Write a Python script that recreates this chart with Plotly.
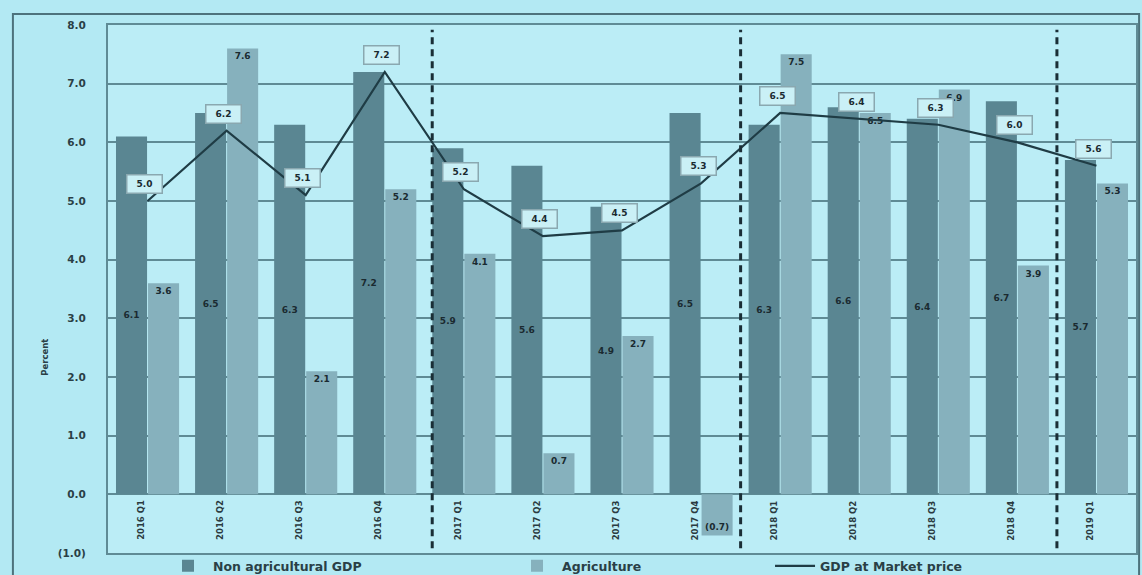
import plotly.graph_objects as go

categories = ["2016 Q1", "2016 Q2", "2016 Q3", "2016 Q4",
              "2017 Q1", "2017 Q2", "2017 Q3", "2017 Q4",
              "2018 Q1", "2018 Q2", "2018 Q3", "2018 Q4",
              "2019 Q1"]
non_agri = [6.1, 6.5, 6.3, 7.2, 5.9, 5.6, 4.9, 6.5, 6.3, 6.6, 6.4, 6.7, 5.7]
agriculture = [3.6, 7.6, 2.1, 5.2, 4.1, 0.7, 2.7, -0.7, 7.5, 6.5, 6.9, 3.9, 5.3]
gdp_market = [5.0, 6.2, 5.1, 7.2, 5.2, 4.4, 4.5, 5.3, 6.5, 6.4, 6.3, 6.0, 5.6]
y_ticks = [-1, 0, 1, 2, 3, 4, 5, 6, 7, 8]
year_breaks = [3.6, 7.5, 11.5]


def fmt(v):
    return f"({abs(v):.1f})" if v < 0 else f"{v:.1f}"


BG = "#b3e9f3"
PLOT_BG = "#bbedf6"
DARK = "#5a8692"
LIGHT = "#86b1bd"
LINE = "#1f3c45"
GRID = "#5f8b95"
TXT = "#2a3f46"
FONT = "DejaVu Sans"

fig = go.Figure()
fig.add_trace(go.Bar(
    x=categories, y=non_agri, name="Non agricultural GDP",
    marker=dict(color=DARK, line=dict(width=0)),
    text=[fmt(v) for v in non_agri], textposition="inside",
    insidetextanchor="middle", textangle=0,
    textfont=dict(family=FONT, size=9, color="#1a2a30", weight="bold"),
    legend="legend",
))
fig.add_trace(go.Bar(
    x=categories, y=agriculture, name="Agriculture",
    marker=dict(color=LIGHT, line=dict(width=0)),
    text=[fmt(v) for v in agriculture], textposition="inside",
    insidetextanchor="end", textangle=0,
    textfont=dict(family=FONT, size=9, color="#1a2a30", weight="bold"),
    legend="legend2",
))
fig.add_trace(go.Scatter(
    x=categories, y=gdp_market, name="GDP at Market price",
    mode="lines", line=dict(color=LINE, width=2.2),
    legend="legend3",
))

# GDP label boxes
for c, v in zip(categories, gdp_market):
    fig.add_annotation(
        x=c, y=v, text=f"<b>{fmt(v)}</b>", showarrow=False,
        yshift=17, xshift=-3, width=30, height=13,
        font=dict(family=FONT, size=9, color="#1a2a30"),
        bgcolor="#caf0f6", bordercolor="#8aa8b0", borderwidth=1.5,
        borderpad=2,
    )

# Category labels, rotated, inside the plot below zero
for c in categories:
    fig.add_annotation(
        x=c, y=0, text=f"<b>{c}</b>", showarrow=False,
        textangle=-90, yanchor="top", yshift=-4, xshift=-6,
        font=dict(family=FONT, size=8.5, color="#2a3a40"),
    )

# year separators
for xb in year_breaks:
    fig.add_shape(type="line", xref="x", yref="y", x0=xb, x1=xb,
                  y0=-0.92, y1=7.92,
                  line=dict(color="#1a2e36", width=3, dash="7px,5px"))

# outer frame
fig.add_shape(type="rect", xref="paper", yref="paper",
              x0=-0.0925, x1=1.003, y0=-0.06, y1=1.021,
              line=dict(color="#4d727c", width=2), layer="below")

# y title
fig.add_annotation(xref="paper", yref="paper", x=-0.068, y=0.37,
                   text="<b>Percent</b>", textangle=-90, showarrow=False,
                   font=dict(family=FONT, size=8.5, color=TXT))

leg_common = dict(orientation="h", y=-0.025, xanchor="left", yanchor="middle",
                  bgcolor="rgba(0,0,0,0)",
                  font=dict(size=12.5, weight="bold", color=TXT), itemwidth=40)

fig.update_layout(
    width=1142, height=575,
    paper_bgcolor=BG, plot_bgcolor=PLOT_BG,
    margin=dict(l=108, r=6, t=25, b=22, autoexpand=False),
    barmode="group", bargap=0.19, bargroupgap=0.03,
    font=dict(family=FONT, size=9, color=TXT),
    showlegend=True,
    legend=dict(x=0.0535, **leg_common),
    legend2=dict(x=0.393, **leg_common),
    legend3=dict(x=0.644, **leg_common),
    uniformtext=dict(minsize=7, mode="show"),
)
fig.update_xaxes(
    type="category", showticklabels=False, showgrid=False, ticks="",
    showline=True, mirror=True, linecolor=GRID, linewidth=2,
    zeroline=False,
)
fig.update_yaxes(
    range=[-1, 8], tickvals=y_ticks, ticktext=[fmt(v) for v in y_ticks],
    showgrid=True, gridcolor=GRID, gridwidth=1.5,
    zeroline=True, zerolinecolor=GRID, zerolinewidth=1.5,
    showline=True, mirror=True, linecolor=GRID, linewidth=2,
    ticks="", ticklabelstandoff=18,
    tickfont=dict(family=FONT, size=10.5, color=TXT, weight="bold"),
)

fig.write_html(
    "out.html",
    config={"displayModeBar": False},
    post_script="document.body.style.margin='0';document.body.style.padding='0';"
                "document.body.style.overflow='hidden';"
                "document.body.style.background='" + BG + "';",
)
